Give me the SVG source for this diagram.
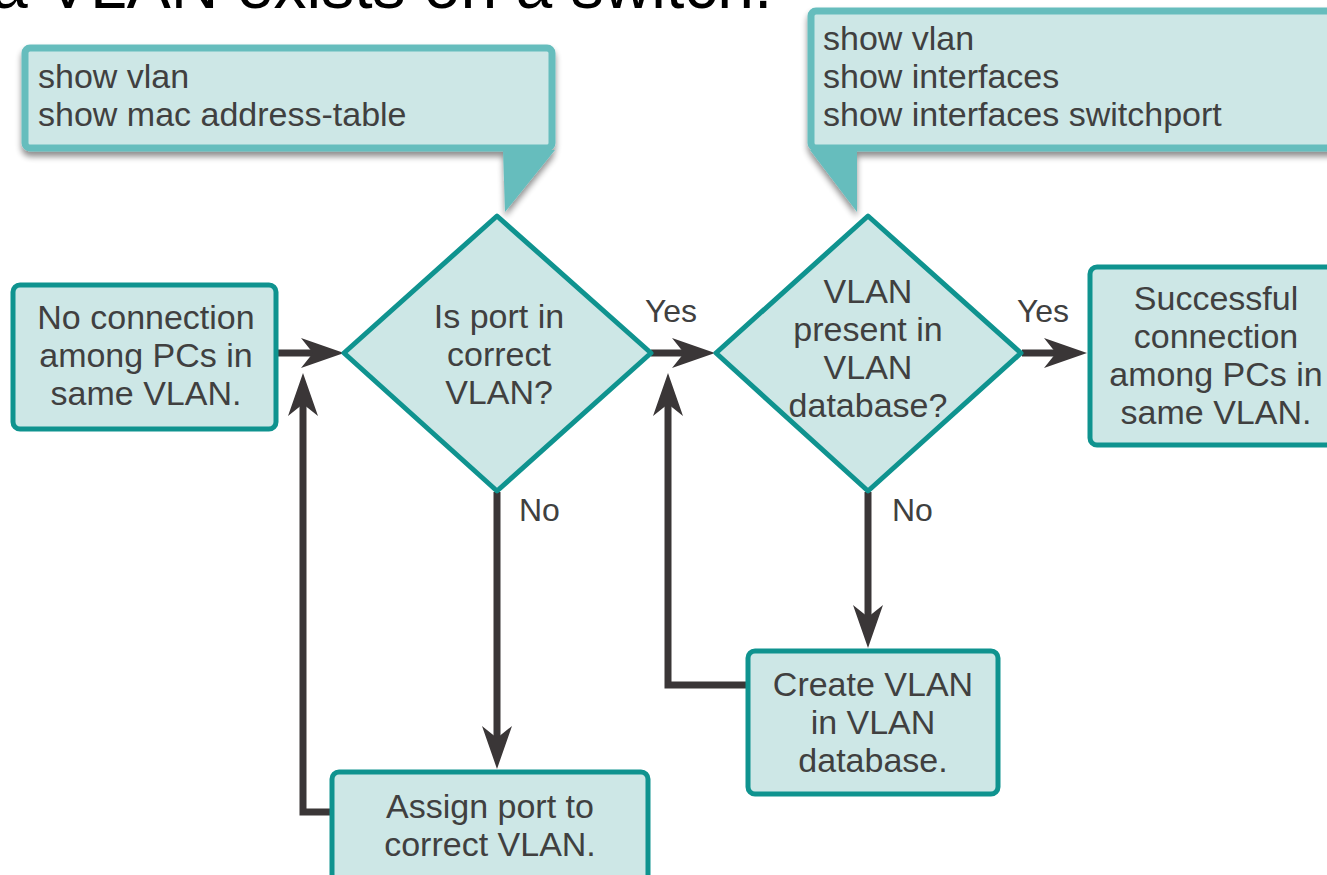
<svg xmlns="http://www.w3.org/2000/svg" width="1327" height="875" viewBox="0 0 1327 875">
  <defs>
    <style>
      .txt { font-family: "Liberation Sans", Arial, sans-serif; font-size: 34px; fill: #404040; }
      .lbl { font-family: "Liberation Sans", Arial, sans-serif; font-size: 32px; fill: #404040; }
      .mid { text-anchor: middle; }
      .title { font-family: "Liberation Sans", Arial, sans-serif; font-size: 66px; fill: #000; }
      .node { fill: #cde7e6; stroke: #0f938f; stroke-width: 5; stroke-linejoin: round; }
      .callout { fill: #cde7e6; stroke: #66bdbd; stroke-width: 7; stroke-linejoin: round; }
      .tail { fill: #66bdbd; }
      .edge { fill: none; stroke: #3a3637; stroke-width: 7; stroke-linejoin: miter; marker-end: url(#arrow); }
    </style>
    <marker id="arrow" viewBox="0 0 44 32" refX="13" refY="16" markerWidth="44" markerHeight="32" markerUnits="userSpaceOnUse" orient="auto">
      <path d="M44,16 L1,1 L13,16 L1,31 Z" fill="#3a3637"/>
    </marker>
    <filter id="shadow" x="-5%" y="-10%" width="110%" height="130%">
      <feGaussianBlur in="SourceAlpha" stdDeviation="3"/>
      <feOffset dx="0" dy="5" result="b"/>
      <feComponentTransfer><feFuncA type="linear" slope="0.45"/></feComponentTransfer>
      <feMerge><feMergeNode/><feMergeNode in="SourceGraphic"/></feMerge>
    </filter>
  </defs>

  <rect width="1327" height="875" fill="#ffffff"/>

  <!-- heading, clipped by the top edge -->
  <text class="title" x="-9" y="8">a VLAN exists on a switch.</text>

  <!-- command callouts -->
  <g id="callout-port">
    <g filter="url(#shadow)">
      <rect class="callout" x="25" y="48" width="527" height="100" rx="5"/>
      <polygon class="tail" points="503,150 555,150 505,212"/>
    </g>
    <text class="txt" x="38" y="88">show vlan</text>
    <text class="txt" x="38" y="126">show mac address-table</text>
  </g>

  <g id="callout-vlan">
    <g filter="url(#shadow)">
      <rect class="callout" x="811" y="11" width="540" height="137" rx="5"/>
      <polygon class="tail" points="810,150 857,150 857,212"/>
    </g>
    <text class="txt" x="823" y="50">show vlan</text>
    <text class="txt" x="823" y="88">show interfaces</text>
    <text class="txt" x="823" y="126">show interfaces switchport</text>
  </g>

  <!-- connectors -->
  <g id="connectors">
    <path class="edge" d="M277,353 H313"/>
    <path class="edge" d="M651,353 H684"/>
    <path class="edge" d="M1022,353 H1056"/>
    <path class="edge" d="M497,492 V738"/>
    <path class="edge" d="M868,492 V617"/>
    <path class="edge" d="M333,812 H303 V404"/>
    <path class="edge" d="M749,685 H668 V404"/>
    <text class="lbl mid" x="671" y="322">Yes</text>
    <text class="lbl mid" x="1043" y="322">Yes</text>
    <text class="lbl" x="519" y="521">No</text>
    <text class="lbl" x="892" y="521">No</text>
  </g>

  <!-- nodes -->
  <g id="start">
    <rect class="node" x="13" y="285" width="263" height="144" rx="7"/>
    <text class="txt mid" x="146" y="329">No connection</text>
    <text class="txt mid" x="146" y="367">among PCs in</text>
    <text class="txt mid" x="146" y="405">same VLAN.</text>
  </g>

  <g id="check-port">
    <polygon class="node" points="497,216 651,353 497,491 344,353"/>
    <text class="txt mid" x="499" y="328">Is port in</text>
    <text class="txt mid" x="499" y="366">correct</text>
    <text class="txt mid" x="499" y="404">VLAN?</text>
  </g>

  <g id="check-vlan">
    <polygon class="node" points="868,216 1021,353 868,491 716,353"/>
    <text class="txt mid" x="868" y="303">VLAN</text>
    <text class="txt mid" x="868" y="341">present in</text>
    <text class="txt mid" x="868" y="379">VLAN</text>
    <text class="txt mid" x="868" y="417">database?</text>
  </g>

  <g id="success">
    <rect class="node" x="1090" y="267" width="260" height="178" rx="7"/>
    <text class="txt mid" x="1216" y="310">Successful</text>
    <text class="txt mid" x="1216" y="348">connection</text>
    <text class="txt mid" x="1216" y="386">among PCs in</text>
    <text class="txt mid" x="1216" y="424">same VLAN.</text>
  </g>

  <g id="assign-port">
    <rect class="node" x="332" y="772" width="316" height="120" rx="7"/>
    <text class="txt mid" x="490" y="818">Assign port to</text>
    <text class="txt mid" x="490" y="856">correct VLAN.</text>
  </g>

  <g id="create-vlan">
    <rect class="node" x="748" y="651" width="250" height="143" rx="7"/>
    <text class="txt mid" x="873" y="696">Create VLAN</text>
    <text class="txt mid" x="873" y="734">in VLAN</text>
    <text class="txt mid" x="873" y="772">database.</text>
  </g>
</svg>
